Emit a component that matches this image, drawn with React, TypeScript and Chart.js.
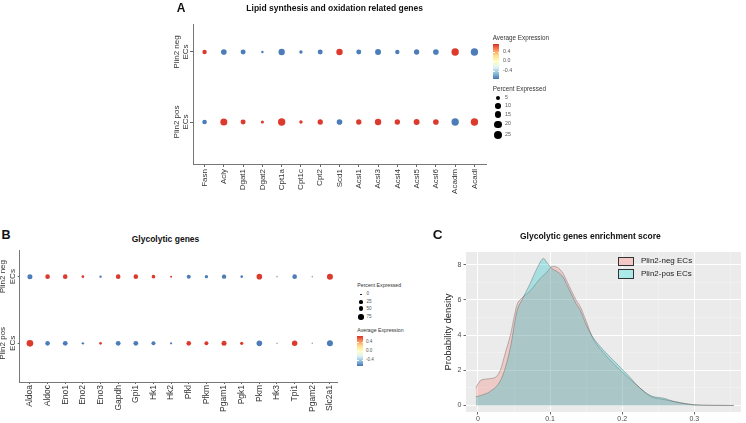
import React, { useEffect, useRef } from 'react';
import { Chart, registerables } from 'chart.js';

Chart.register(...registerables);

const FONT = "'Liberation Sans', Arial, Helvetica, sans-serif";
Chart.defaults.font.family = FONT;

// ---- Panel A: lipid synthesis / oxidation genes ----
const lipidGenes = ['Fasn', 'Acly', 'Dgat1', 'Dgat2', 'Cpt1a', 'Cpt1c', 'Cpt2', 'Scd1', 'Acsl1', 'Acsl3', 'Acsl4', 'Acsl5', 'Acsl6', 'Acadm', 'Acadl'];
const lipidPctNeg = [8, 15, 11, 1.5, 20, 4, 11, 20, 11, 17, 8, 13, 15, 28, 28];
const lipidPctPos = [9, 25, 11, 3, 28, 4, 13, 15, 13, 20, 13, 17, 15, 28, 28];
const lipidAvgNeg = [0.71, -0.71, -0.71, -0.71, -0.71, -0.71, -0.71, 0.71, -0.71, -0.71, -0.71, -0.71, -0.71, 0.71, -0.71];
const lipidAvgPos = [-0.71, 0.71, 0.71, 0.71, 0.71, 0.71, 0.71, -0.71, 0.71, 0.71, 0.71, 0.71, 0.71, -0.71, 0.71];
const lipidPctLegend = [5, 10, 15, 20, 25];

// ---- Panel B: glycolytic genes ----
const glycoGenes = ['Aldoa', 'Aldoc', 'Eno1', 'Eno2', 'Eno3', 'Gapdh', 'Gpi1', 'Hk1', 'Hk2', 'Pfkl', 'Pfkm', 'Pgam1', 'Pgk1', 'Pkm', 'Hk3', 'Tpi1', 'Pgam2', 'Slc2a1'];
const glycoPctNeg = [40, 31, 31, 3.4, 2.2, 31, 31, 14, 0.6, 20, 11, 27, 3.4, 55, 0, 31, 0, 66];
const glycoPctPos = [86, 31, 35, 2.2, 3.4, 35, 35, 20, 1.2, 31, 20, 40, 9, 55, 0, 50, 0, 66];
const glycoAvgNeg: (number | null)[] = [-0.71, 0.71, 0.71, 0.71, -0.71, 0.71, 0.71, 0.71, 0.71, -0.71, -0.71, -0.71, -0.71, 0.71, null, -0.71, null, 0.71];
const glycoAvgPos: (number | null)[] = [0.71, -0.71, -0.71, -0.71, 0.71, -0.71, -0.71, -0.71, -0.71, 0.71, 0.71, 0.71, 0.71, -0.71, null, 0.71, null, -0.71];
const glycoPctLegend = [0, 25, 50, 75];

const groupLabelsA = [['Plin2 pos', 'ECs'], ['Plin2 neg', 'ECs']];
const groupLabelsB = [['Plin2 pos', 'ECs'], ['Plin2 neg', 'ECs']];
const avgExprTicks = [0.4, 0.0, -0.4];

// ---- Panel C: enrichment score densities ----
const negScore = [-0.003, 0.003, 0.011, 0.024, 0.031, 0.038, 0.045, 0.054, 0.061, 0.072, 0.086, 0.096, 0.103, 0.110, 0.118, 0.124, 0.131, 0.136, 0.142, 0.150, 0.159, 0.174, 0.198, 0.221, 0.240, 0.258, 0.281, 0.299, 0.323, 0.355];
const negDensity = [1.0, 1.4, 1.5, 1.6, 2.0, 3.0, 4.0, 5.7, 6.1, 6.5, 7.2, 7.6, 7.9, 7.85, 7.5, 7.0, 6.4, 6.0, 5.6, 4.8, 3.85, 3.0, 1.97, 1.13, 0.5, 0.34, 0.15, 0.04, 0.01, 0];
const posScore = [-0.003, 0.003, 0.017, 0.031, 0.038, 0.045, 0.054, 0.061, 0.072, 0.082, 0.091, 0.096, 0.102, 0.110, 0.118, 0.124, 0.131, 0.136, 0.142, 0.150, 0.159, 0.174, 0.187, 0.198, 0.212, 0.221, 0.240, 0.258, 0.270, 0.281, 0.299, 0.323, 0.355];
const posDensity = [0.5, 0.56, 0.8, 1.4, 2.15, 3.3, 5.35, 6.0, 6.9, 7.8, 8.35, 8.1, 7.8, 7.6, 7.3, 6.8, 6.2, 5.8, 5.4, 4.6, 3.9, 3.15, 2.6, 2.14, 1.55, 1.13, 0.55, 0.41, 0.25, 0.15, 0.04, 0.01, 0];
const scoreMajorTicks = [0, 0.1, 0.2, 0.3];
const densityMajorTicks = [0, 2, 4, 6, 8];
const densityLegend = ['Plin2-neg ECs', 'Plin2-pos ECs'];

// diverging palette for average expression
const PALETTE: [number, string][] = [
  [-0.74, '#4575b4'], [-0.45, '#91bfdb'], [-0.15, '#e0f3f8'], [0, '#ffffbf'],
  [0.15, '#fee090'], [0.45, '#fc8d59'], [0.74, '#d73027'],
];
const hex = (h: string) => [1, 3, 5].map((i) => parseInt(h.slice(i, i + 2), 16));
function exprColor(v: number | null): string {
  if (v === null) return '#a6a6a6';
  const c = Math.max(PALETTE[0][0], Math.min(PALETTE[PALETTE.length - 1][0], v));
  for (let i = 0; i < PALETTE.length - 1; i++) {
    const [a, ca] = PALETTE[i];
    const [b, cb] = PALETTE[i + 1];
    if (c >= a && c <= b) {
      const t = (c - a) / (b - a);
      const A = hex(ca), B = hex(cb);
      const m = A.map((x, k) => Math.round(x + (B[k] - x) * t));
      return `rgb(${m[0]},${m[1]},${m[2]})`;
    }
  }
  return PALETTE[PALETTE.length - 1][1];
}
const GRADIENT = 'linear-gradient(to bottom, #d73027, #fc8d59, #fee090, #ffffbf, #e0f3f8, #91bfdb, #4575b4)';

const radiusA = (p: number) => 0.5 + 0.6 * Math.sqrt(p);
const radiusB = (p: number) => 0.8 + 0.27 * Math.sqrt(p);

function rowLabelPlugin(labels: string[][], size: number) {
  return {
    id: 'rowLabels',
    afterDraw(chart: any) {
      const { ctx, chartArea, scales } = chart;
      ctx.save();
      ctx.fillStyle = '#333';
      ctx.font = `${size}px ${FONT}`;
      ctx.textAlign = 'center';
      ctx.textBaseline = 'middle';
      labels.forEach((lines, v) => {
        const py = scales.y.getPixelForValue(v);
        ctx.save();
        ctx.translate(chartArea.left - 16.5, py);
        ctx.rotate(-Math.PI / 2);
        lines.forEach((t, i) => ctx.fillText(t, 0, i * 9.3));
        ctx.restore();
      });
      ctx.restore();
    },
  };
}

interface DotCfg {
  genes: string[];
  pctNeg: number[];
  pctPos: number[];
  avgNeg: (number | null)[];
  avgPos: (number | null)[];
  radius: (p: number) => number;
  labels: string[][];
  xMin: number;
  xMax: number;
  yMin: number;
  yMax: number;
  padding: { left: number; right: number; top: number; bottom: number };
  xHeight: number;
  tickFont: number;
  tickLength: number;
  tickPad: number;
}

function makeDotChart(canvas: HTMLCanvasElement, c: DotCfg) {
  const row = (pct: number[], avg: (number | null)[], y: number) => ({
    data: c.genes.map((_, i) => ({ x: i, y })),
    pointRadius: pct.map(c.radius),
    pointBackgroundColor: avg.map(exprColor),
    pointBorderWidth: 0,
    pointBorderColor: 'rgba(0,0,0,0)',
    showLine: false,
  });
  return new Chart(canvas, {
    type: 'scatter',
    data: { datasets: [row(c.pctNeg, c.avgNeg, 1), row(c.pctPos, c.avgPos, 0)] as any },
    options: {
      responsive: false,
      animation: false,
      events: [],
      layout: { padding: c.padding },
      plugins: { legend: { display: false }, tooltip: { enabled: false } },
      scales: {
        x: {
          type: 'linear',
          min: c.xMin,
          max: c.xMax,
          afterBuildTicks: (s: any) => { s.ticks = c.genes.map((_, i) => ({ value: i })); },
          afterFit: (s: any) => { s.height = c.xHeight; },
          ticks: {
            autoSkip: false,
            minRotation: 90,
            maxRotation: 90,
            padding: c.tickPad,
            color: '#333',
            font: { size: c.tickFont, family: FONT },
            callback: (v: any) => c.genes[Math.round(Number(v))] ?? '',
          },
          grid: { drawOnChartArea: false, drawTicks: true, tickLength: c.tickLength, color: '#666' },
          border: { display: true, color: '#777', width: 1 },
        },
        y: {
          type: 'linear',
          min: c.yMin,
          max: c.yMax,
          afterBuildTicks: (s: any) => { s.ticks = [{ value: 0 }, { value: 1 }]; },
          afterFit: (s: any) => { s.width = c.tickLength; },
          ticks: { display: false },
          grid: { drawOnChartArea: false, drawTicks: true, tickLength: c.tickLength, color: '#666' },
          border: { display: true, color: '#777', width: 1 },
        },
      },
    } as any,
    plugins: [rowLabelPlugin(c.labels, 8)],
  });
}

const panelBg = {
  id: 'panelBg',
  beforeDraw(chart: any) {
    const { ctx, chartArea: a } = chart;
    ctx.save();
    ctx.fillStyle = '#ebebeb';
    ctx.fillRect(a.left, a.top, a.right - a.left, a.bottom - a.top);
    ctx.restore();
  },
};

function withMinor(majors: number[], step: number, max: number) {
  const out: number[] = [];
  majors.forEach((m) => { out.push(m); if (m + step / 2 <= max) out.push(m + step / 2); });
  return out;
}

function makeDensityChart(canvas: HTMLCanvasElement) {
  const xTicks = withMinor(scoreMajorTicks, 0.1, 0.3648);
  const yTicks = withMinor(densityMajorTicks, 2, 8.72);
  const majorColor = (ctx: any) => (ctx.index % 2 === 0 ? '#ffffff' : 'rgba(255,255,255,0.55)');
  const majorWidth = (ctx: any) => (ctx.index % 2 === 0 ? 1 : 0.5);
  const tickColor = (ctx: any) => (ctx.index % 2 === 0 ? '#444' : 'rgba(0,0,0,0)');
  return new Chart(canvas, {
    type: 'line',
    data: {
      datasets: [
        {
          label: densityLegend[0],
          data: negScore.map((x, i) => ({ x, y: negDensity[i] })),
          fill: 'origin',
          backgroundColor: 'rgba(248,118,109,0.28)',
          borderColor: 'rgba(60,60,60,0.55)',
          borderWidth: 0.6,
          pointRadius: 0,
          cubicInterpolationMode: 'monotone',
          order: 1,
        },
        {
          label: densityLegend[1],
          data: posScore.map((x, i) => ({ x, y: posDensity[i] })),
          fill: 'origin',
          backgroundColor: 'rgba(0,191,196,0.28)',
          borderColor: 'rgba(60,60,60,0.55)',
          borderWidth: 0.6,
          pointRadius: 0,
          cubicInterpolationMode: 'monotone',
          order: 0,
        },
      ],
    },
    options: {
      responsive: false,
      animation: false,
      events: [],
      layout: { padding: { left: 22.6, right: 5, top: 27, bottom: 0 } },
      plugins: { legend: { display: false }, tooltip: { enabled: false } },
      scales: {
        x: {
          type: 'linear',
          min: -0.0166,
          max: 0.3648,
          afterBuildTicks: (s: any) => { s.ticks = xTicks.map((v) => ({ value: v })); },
          afterFit: (s: any) => { s.height = 11; },
          ticks: {
            autoSkip: false,
            minRotation: 0,
            maxRotation: 0,
            padding: 0,
            color: '#4d4d4d',
            font: { size: 7, family: FONT },
            callback: (_v: any, i: number) => (i % 2 === 0 ? String(scoreMajorTicks[i / 2]) : ''),
          },
          grid: { color: majorColor, lineWidth: majorWidth, tickColor, tickLength: 2.5, tickWidth: 0.8 },
          border: { display: false },
        },
        y: {
          type: 'linear',
          min: -0.37,
          max: 8.72,
          afterBuildTicks: (s: any) => { s.ticks = yTicks.map((v) => ({ value: v })); },
          afterFit: (s: any) => { s.width = 23.4; },
          title: { display: true, text: 'Probability density', color: '#222', font: { size: 9.5, family: FONT }, padding: 0 },
          ticks: {
            autoSkip: false,
            padding: 2,
            color: '#4d4d4d',
            font: { size: 7, family: FONT },
            callback: (_v: any, i: number) => (i % 2 === 0 ? String(densityMajorTicks[i / 2]) : ''),
          },
          grid: { color: majorColor, lineWidth: majorWidth, tickColor, tickLength: 2.5, tickWidth: 0.8 },
          border: { display: false },
        },
      },
    } as any,
    plugins: [panelBg],
  });
}

const abs = (left: number, top: number, extra: React.CSSProperties = {}): React.CSSProperties => ({
  position: 'absolute', left, top, fontFamily: FONT, whiteSpace: 'nowrap', lineHeight: 1, ...extra,
});

function CenterText(props: { x: number; y: number; size: number; bold?: boolean; color?: string; children: React.ReactNode }) {
  return (
    <div style={abs(props.x, props.y, { transform: 'translate(-50%,-50%)', fontSize: props.size, fontWeight: props.bold ? 700 : 400, color: props.color ?? '#111' })}>
      {props.children}
    </div>
  );
}

function LeftText(props: { x: number; y: number; size: number; color?: string; children: React.ReactNode }) {
  return (
    <div style={abs(props.x, props.y, { transform: 'translateY(-50%)', fontSize: props.size, color: props.color ?? '#333' })}>
      {props.children}
    </div>
  );
}

function Dot(props: { x: number; y: number; r: number }) {
  return (
    <div style={{ position: 'absolute', left: props.x - props.r, top: props.y - props.r, width: props.r * 2, height: props.r * 2, borderRadius: '50%', background: '#000' }} />
  );
}

function ColorBar(props: { x: number; y: number; w: number; h: number; vmax: number; labelX: number; size: number }) {
  const { x, y, w, h, vmax } = props;
  const py = (v: number) => y + ((vmax - v) / (2 * vmax)) * h;
  return (
    <>
      <div style={{ position: 'absolute', left: x, top: y, width: w, height: h, background: GRADIENT }} />
      {avgExprTicks.map((v) => (
        <React.Fragment key={v}>
          <div style={{ position: 'absolute', left: x, top: py(v) - 0.25, width: 1.3, height: 0.5, background: '#fff' }} />
          <div style={{ position: 'absolute', left: x + w - 1.3, top: py(v) - 0.25, width: 1.3, height: 0.5, background: '#fff' }} />
          <LeftText x={props.labelX} y={py(v)} size={props.size} color="#555">{v.toFixed(1)}</LeftText>
        </React.Fragment>
      ))}
    </>
  );
}

export default function App() {
  const refA = useRef<HTMLCanvasElement>(null);
  const refB = useRef<HTMLCanvasElement>(null);
  const refC = useRef<HTMLCanvasElement>(null);

  useEffect(() => {
    const charts: Chart[] = [];
    if (refA.current) {
      charts.push(makeDotChart(refA.current, {
        genes: lipidGenes, pctNeg: lipidPctNeg, pctPos: lipidPctPos, avgNeg: lipidAvgNeg, avgPos: lipidAvgPos,
        radius: radiusA, labels: groupLabelsA,
        xMin: -0.6, xMax: 14.6, yMin: -0.6, yMax: 1.4,
        padding: { left: 40, right: 9, top: 24, bottom: 6 }, xHeight: 30,
        tickFont: 8, tickLength: 3, tickPad: 2,
      }));
    }
    if (refB.current) {
      charts.push(makeDotChart(refB.current, {
        genes: glycoGenes, pctNeg: glycoPctNeg, pctPos: glycoPctPos, avgNeg: glycoAvgNeg, avgPos: glycoAvgPos,
        radius: radiusB, labels: groupLabelsB,
        xMin: -0.58, xMax: 17.4, yMin: -0.58, yMax: 1.4,
        padding: { left: 17.7, right: 8, top: 5, bottom: 5 }, xHeight: 36,
        tickFont: 8.5, tickLength: 2, tickPad: 1,
      }));
    }
    if (refC.current) charts.push(makeDensityChart(refC.current));
    return () => charts.forEach((c) => c.destroy());
  }, []);

  const legendDotsA = [98.3, 106, 114.7, 124.3, 134.7];
  const legendDotsB = [294.3, 301.7, 308.7, 317];

  return (
    <div style={{ position: 'absolute', left: 0, top: 0, width: 746, height: 423, background: '#fff', overflow: 'hidden' }}>
      <canvas ref={refA} width={345} height={200} style={{ position: 'absolute', left: 150, top: 0, width: 345, height: 200 }} />
      <canvas ref={refB} width={345} height={178} style={{ position: 'absolute', left: 0, top: 245, width: 345, height: 178 }} />
      <canvas ref={refC} width={326} height={198} style={{ position: 'absolute', left: 420, top: 225, width: 326, height: 198 }} />

      {/* panel letters and titles */}
      <CenterText x={181.2} y={7.5} size={12} bold>A</CenterText>
      <CenterText x={334.7} y={8.3} size={8.5} bold>Lipid synthesis and oxidation related genes</CenterText>
      <CenterText x={6} y={234.7} size={12.5} bold>B</CenterText>
      <CenterText x={165.5} y={239} size={8.5} bold>Glycolytic genes</CenterText>
      <CenterText x={437.5} y={235} size={13.5} bold>C</CenterText>
      <CenterText x={590.4} y={235.7} size={8.5} bold>Glycolytic genes enrichment score</CenterText>

      {/* panel A legends */}
      <LeftText x={492.7} y={38.3} size={6.3}>Average Expression</LeftText>
      <ColorBar x={493.3} y={43.7} w={6} h={35.3} vmax={0.74} labelX={503} size={5.3} />
      <LeftText x={492.7} y={89.3} size={6.3}>Percent Expressed</LeftText>
      {lipidPctLegend.map((p, i) => (
        <React.Fragment key={p}>
          <Dot x={498} y={legendDotsA[i]} r={radiusA(p) * 1.15} />
          <LeftText x={505} y={legendDotsA[i]} size={5.3} color="#555">{p}</LeftText>
        </React.Fragment>
      ))}

      {/* panel B legends */}
      <LeftText x={357.3} y={286} size={5.2}>Percent Expressed</LeftText>
      {glycoPctLegend.map((p, i) => (
        <React.Fragment key={p}>
          <Dot x={361} y={legendDotsB[i]} r={radiusB(p) * 0.87} />
          <LeftText x={366.5} y={legendDotsB[i]} size={4.6} color="#555">{p}</LeftText>
        </React.Fragment>
      ))}
      <LeftText x={357.3} y={331} size={5.2}>Average Expression</LeftText>
      <ColorBar x={357.3} y={336} w={6} h={30} vmax={0.667} labelX={366} size={4.6} />

      {/* panel C legend */}
      {densityLegend.map((name, i) => (
        <React.Fragment key={name}>
          <div style={{ position: 'absolute', left: 617.7, top: 256.7 + i * 12.7, width: 16.6, height: 9.3, boxSizing: 'border-box', border: '1px solid #333', background: i === 0 ? 'rgb(244,200,198)' : 'rgb(172,234,234)' }} />
          <LeftText x={641} y={261.3 + i * 12.7} size={8} color="#222">{name}</LeftText>
        </React.Fragment>
      ))}
    </div>
  );
}
